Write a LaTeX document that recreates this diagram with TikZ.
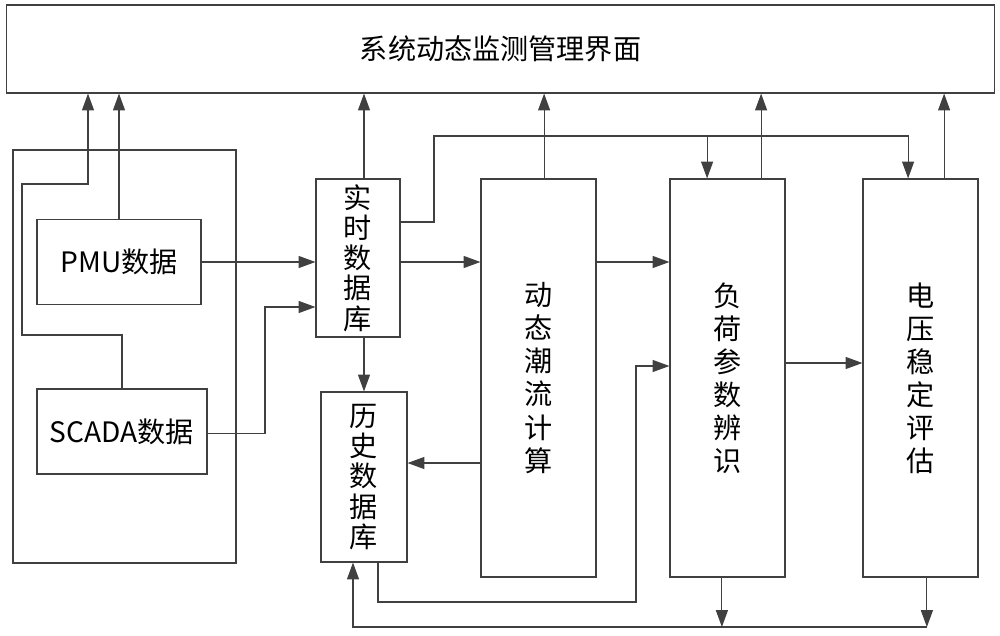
\documentclass[tikz,border=0pt]{standalone}
\usepackage{fontspec}
\newfontfamily\cjk{Noto Sans CJK SC}
\usetikzlibrary{arrows.meta}

\begin{document}
\begin{tikzpicture}[x=0.025cm, y=-0.025cm,
		box/.style={draw=black!75, line width=0.8pt, inner sep=0pt, align=center, font={\cjk\fontsize{20pt}{21.5pt}\selectfont}},
		tall/.style={box, minimum width=2.875cm, minimum height=9.95cm, font={\cjk\fontsize{20pt}{23.5pt}\selectfont}},
		arr/.style={draw=black!75, line width=0.8pt, -{Triangle[length=0.42cm, width=0.3cm]}}]
		\useasboundingbox (0, 0) rectangle (1000, 636);
		
		% Monitoring Interface
		\node [box, minimum width=24.675cm, minimum height=2.2cm] (ui) at (500.5, 49) {系统动态监测管理界面};
		
		% Data Sources
		\node [box, minimum width=5.575cm, minimum height=10.325cm] (src) at (124.5, 356.5) {};
		\node [box, minimum width=4.1cm, minimum height=2.125cm] (pmu) at (119, 262) {PMU数据};
		\node [box, minimum width=4.25cm, minimum height=2.125cm] (scada) at (122, 431.5) {SCADA数据};
		
		% Databases
		\node [box, minimum width=2.1cm, minimum height=3.95cm] (rtdb) at (358, 258) {实\\时\\数\\据\\库};
		\node [box, minimum width=2.15cm, minimum height=4.25cm] (hisdb) at (364, 477) {历\\史\\数\\据\\库};
		
		% Calculation Modules
		\node [tall] (flow) at (538.5, 378) {动\\态\\潮\\流\\计\\算};
		\node [tall] (load) at (727.5, 378) {负\\荷\\参\\数\\辨\\识};
		\node [tall] (volt) at (920.5, 378) {电\\压\\稳\\定\\评\\估};
		
		% Bend Points
		\coordinate (loop) at (88, 184);
		\coordinate (jog) at (265, 307);
		\coordinate (feed) at (434, 136);
		\coordinate (bus) at (0, 627);
		
		% PMU to Interface
		\draw [arr] (pmu.north) -- (pmu.north |- ui.south);
		
		% SCADA to Interface
		\draw [arr] (scada.north) |- (22, 335) |- (loop) -- (loop |- ui.south);
		
		% PMU to Real-time Database
		\draw [arr] (pmu.east) -- (pmu.east -| rtdb.west);
		
		% SCADA to Real-time Database
		\draw [arr] ([yshift=-0.06cm]scada.east) -| (jog) -- (jog -| rtdb.west);
		
		% Real-time Database Outputs
		\draw [arr] (hisdb.north |- rtdb.north) -- (hisdb.north |- ui.south);
		\draw [arr] (hisdb.north |- rtdb.south) -- (hisdb.north);
		\draw [arr] (pmu.east -| rtdb.east) -- (pmu.east -| flow.west);
		\draw [arr] ([yshift=0.9cm]rtdb.east) -| (feed) -| ([xshift=-0.31cm]volt.north);
		\draw [arr] ([xshift=-0.51cm]load.north |- feed) -- ([xshift=-0.51cm]load.north);
		
		% Power Flow Outputs
		\draw [arr] ([xshift=0.14cm]flow.north) -- ([xshift=0.14cm]flow.north |- ui.south);
		\draw [arr] (pmu.east -| flow.east) -- (pmu.east -| load.west);
		\draw [arr] ([yshift=-2.125cm]flow.west) -- ([yshift=-2.125cm]flow.west -| hisdb.east);
		
		% History Database to Load Identification
		\draw [arr] ([xshift=0.35cm]hisdb.south) |- (636, 602) |- ([yshift=0.3cm]load.west);
		
		% Load Identification Outputs
		\draw [arr] ([xshift=0.84cm]load.north) -- ([xshift=0.84cm]load.north |- ui.south);
		\draw [arr] ([yshift=0.375cm]load.east) -- ([yshift=0.375cm]load.east -| volt.west);
		\draw [arr] ([xshift=-0.14cm]load.south) -- ([xshift=-0.14cm]load.south |- bus);
		
		% Voltage Stability Outputs
		\draw [arr] ([xshift=0.59cm]volt.north) -- ([xshift=0.59cm]volt.north |- ui.south);
		\draw [arr] ([xshift=0.16cm]volt.south) -- ([xshift=0.16cm]volt.south |- bus);
		
		% Back to History Database
		\draw [arr] ([xshift=0.16cm]volt.south |- bus) -| ([xshift=-0.275cm]hisdb.south);
		
	\end{tikzpicture}
\end{document}
